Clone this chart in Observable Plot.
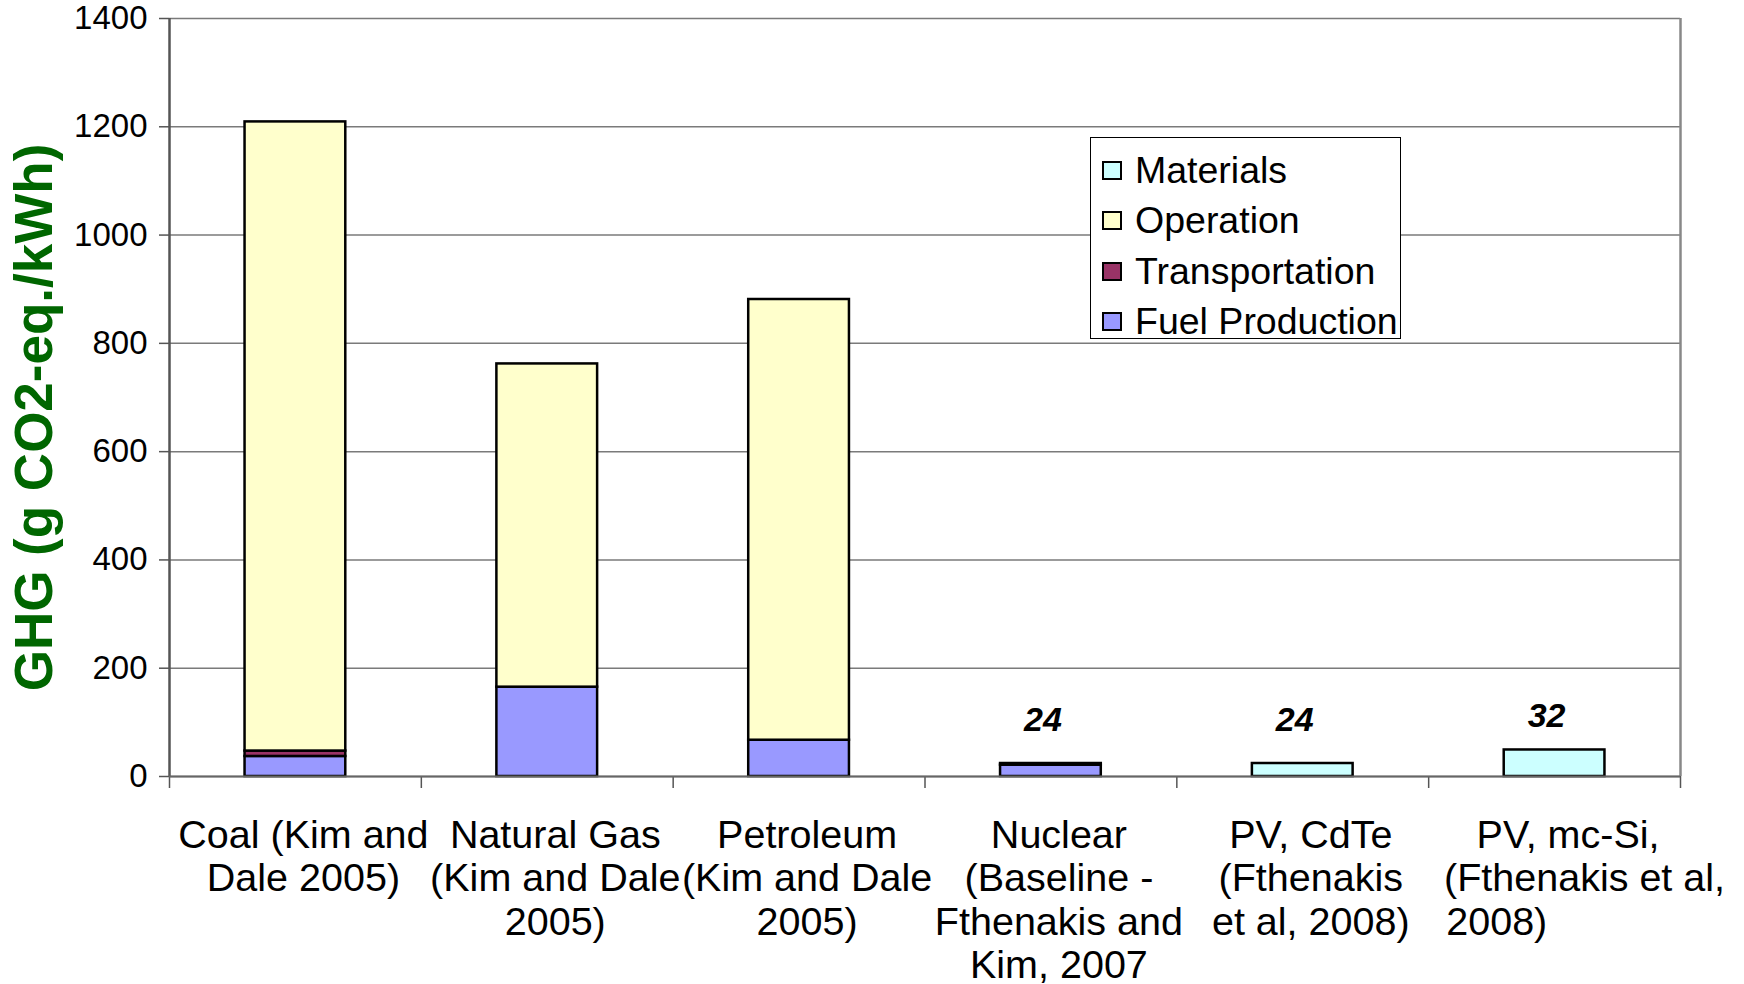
<!DOCTYPE html>
<html>
<head>
<meta charset="utf-8">
<script src="https://cdn.jsdelivr.net/npm/d3@7"></script>
<script src="https://cdn.jsdelivr.net/npm/@observablehq/plot@0.6"></script>
<style>
  body { margin: 0; background: #fff; }
  #wrap { position: relative; width: 1744px; height: 984px; font-family: "Liberation Sans", Arial, sans-serif; }
  #legend { position: absolute; left: 1090px; top: 137px; width: 311px; height: 202px; border: 1.5px solid #000;
            background: #fff; box-sizing: border-box; padding-top: 7px; }
  .row { height: 50.5px; display: flex; align-items: center; font-size: 37.5px; color: #000; white-space: nowrap; }
  .sw { width: 16px; height: 15px; border: 2px solid #000; margin-left: 11px; margin-right: 13px; flex: none; }
</style>
</head>
<body>
<div id="wrap"></div>
<script>
const NB = "\u00A0";
const categories = ["Coal", "Natural Gas", "Petroleum", "Nuclear", "PV, CdTe", "PV, mc-Si"];
const categoryLabels = [
  "Coal (Kim and\nDale 2005)",
  "Natural Gas\n(Kim and Dale\n2005)",
  "Petroleum\n(Kim and Dale\n2005)",
  "Nuclear\n(Baseline -\nFthenakis and\nKim, 2007",
  "PV, CdTe\n(Fthenakis\net al, 2008)",
  NB + "PV, mc-Si,\n" + NB.repeat(4) + "(Fthenakis et al,\n2008)" + NB.repeat(12)
];
const series = ["Fuel Production", "Transportation", "Operation", "Materials"];
const seriesColors = ["#9999FF", "#993366", "#FFFFCC", "#CCFFFF"];
const fuelProduction = [37, 165, 67, 21, 0, 0];
const transportation = [10, 0, 0, 3, 0, 0];
const operation = [1162, 597, 814, 0, 0, 0];
const materials = [0, 0, 0, 0, 24, 49];
const valueLabels = ["", "", "", "24", "24", "32"];
const yTicks = [0, 200, 400, 600, 800, 1000, 1200, 1400];

const seriesValues = [fuelProduction, transportation, operation, materials];

const rows = [];
categories.forEach((c, i) => {
  series.forEach((s, k) => {
    const v = seriesValues[k][i];
    if (v > 0) rows.push({i, category: c, series: s, value: v});
  });
});
const labelRows = categories.map((c, i) => ({ i, category: c, label: valueLabels[i] })).filter(d => d.label);

const chart = Plot.plot({
  width: 1744,
  height: 984,
  marginLeft: 169,
  marginRight: 64,
  marginTop: 18,
  marginBottom: 208,
  style: { fontFamily: "'Liberation Sans', Arial, sans-serif", background: "white", overflow: "visible" },
  x: { domain: [0, categories.length], label: null },
  y: { domain: [0, 1400], label: null },
  color: { domain: series, range: seriesColors },
  marks: [
    Plot.gridY({ ticks: yTicks, stroke: "#7a7a7a", strokeOpacity: 1, strokeWidth: 1.5 }),
    Plot.ruleX([categories.length], { stroke: "#888", strokeWidth: 2.5 }),
    Plot.axisY({ ticks: yTicks, tickSize: 10, tickPadding: 12, fontSize: 33, stroke: "#555", strokeWidth: 1.5,
                 fill: "#000", tickFormat: d => String(d), label: null }),
    Plot.axisX({ ticks: d3.range(categories.length + 1), tickSize: 12, tickFormat: () => "",
                 stroke: "#555", strokeWidth: 1.5, label: null }),
    Plot.axisX({ ticks: categories.map((_, i) => i + 0.5), tickSize: 0, tickPadding: 40, fontSize: 39.5,
                 lineHeight: 1.105, dx: 8, fill: "#000",
                 tickFormat: d => categoryLabels[Math.round(d - 0.5)], label: null }),
    Plot.rectY(rows, { x1: d => d.i + 0.3, x2: d => d.i + 0.7, y: "value", fill: "series",
                       stroke: "#000", strokeWidth: 2.5 }),
    Plot.ruleX([0], { stroke: "#555", strokeWidth: 2.5 }),
    Plot.ruleY([0], { stroke: "#666", strokeWidth: 2 }),
    Plot.text(labelRows, { x: d => d.i + 0.5, y: d => +d.label, text: "label", dy: -43, dx: -8,
                        lineAnchor: "middle",
                        fontSize: 34, fontWeight: "bold", fontStyle: "italic",
                        fontFamily: "'Liberation Sans Narrow', 'Liberation Sans', Arial, sans-serif", fill: "#000" }),
    Plot.text(["GHG (g CO2-eq./kWh)"], { frameAnchor: "left", textAnchor: "middle", rotate: -90, dx: -134, dy: 20,
                        fontSize: 53, fontWeight: "bold", fill: "#006600" })
  ]
});

const wrap = document.getElementById("wrap");
wrap.appendChild(chart);

const legend = document.createElement("div");
legend.id = "legend";
series.slice().reverse().forEach(s => {
  const row = document.createElement("div");
  row.className = "row";
  const sw = document.createElement("span");
  sw.className = "sw";
  sw.style.background = seriesColors[series.indexOf(s)];
  const t = document.createElement("span");
  t.textContent = s;
  row.appendChild(sw);
  row.appendChild(t);
  legend.appendChild(row);
});
wrap.appendChild(legend);
</script>
</body>
</html>
